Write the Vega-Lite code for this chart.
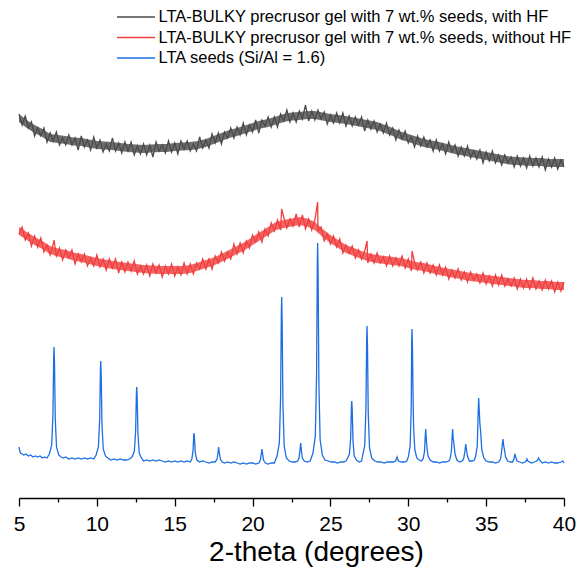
{
"$schema":"https://vega.github.io/schema/vega-lite/v6.json",
"width":545,"height":498,
"autosize":{"type":"none"},
"padding":{"left":19,"right":18,"top":0,"bottom":71},
"background":"white",
"config":{"view":{"stroke":null},"font":"Liberation Sans"},
"datasets":{
"band":[
{"s":"k","x":5.0,"lo":376,"hi":384},{"s":"k","x":5.5,"lo":370,"hi":378},{"s":"k","x":6.0,"lo":365,"hi":373},{"s":"k","x":6.5,"lo":361,"hi":369},{"s":"k","x":7.0,"lo":356,"hi":364},{"s":"k","x":7.5,"lo":355,"hi":363},{"s":"k","x":8.0,"lo":354,"hi":362},{"s":"k","x":8.5,"lo":352.5,"hi":360.5},{"s":"k","x":9.0,"lo":352,"hi":360},{"s":"k","x":9.5,"lo":350.5,"hi":358.5},
{"s":"k","x":10.0,"lo":349,"hi":357},{"s":"k","x":10.5,"lo":348.5,"hi":356.5},{"s":"k","x":11.0,"lo":348,"hi":356},{"s":"k","x":11.5,"lo":347,"hi":355},{"s":"k","x":12.0,"lo":346,"hi":354},{"s":"k","x":12.5,"lo":345.5,"hi":353.5},{"s":"k","x":13.0,"lo":345,"hi":353},{"s":"k","x":13.5,"lo":345.5,"hi":353.5},{"s":"k","x":14.0,"lo":346,"hi":354},{"s":"k","x":14.5,"lo":346,"hi":354},
{"s":"k","x":15.0,"lo":347,"hi":355},{"s":"k","x":15.5,"lo":347.5,"hi":355.5},{"s":"k","x":16.0,"lo":348,"hi":356},{"s":"k","x":16.5,"lo":349,"hi":357},{"s":"k","x":17.0,"lo":351,"hi":359},{"s":"k","x":17.5,"lo":354,"hi":362},{"s":"k","x":18.0,"lo":357,"hi":365},{"s":"k","x":18.5,"lo":360,"hi":368},{"s":"k","x":19.0,"lo":362,"hi":370},{"s":"k","x":19.5,"lo":364.5,"hi":372.5},
{"s":"k","x":20.0,"lo":367,"hi":375},{"s":"k","x":20.5,"lo":369.5,"hi":377.5},{"s":"k","x":21.0,"lo":371,"hi":379},{"s":"k","x":21.5,"lo":373.5,"hi":381.5},{"s":"k","x":22.0,"lo":376,"hi":384},{"s":"k","x":22.5,"lo":377.5,"hi":385.5},{"s":"k","x":23.0,"lo":378,"hi":386},{"s":"k","x":23.5,"lo":379,"hi":387},{"s":"k","x":24.0,"lo":379,"hi":387},{"s":"k","x":24.5,"lo":377.5,"hi":385.5},
{"s":"k","x":25.0,"lo":376,"hi":384},{"s":"k","x":25.5,"lo":375,"hi":383},{"s":"k","x":26.0,"lo":374,"hi":382},{"s":"k","x":26.5,"lo":372.5,"hi":380.5},{"s":"k","x":27.0,"lo":371,"hi":379},{"s":"k","x":27.5,"lo":369.5,"hi":377.5},{"s":"k","x":28.0,"lo":368,"hi":376},{"s":"k","x":28.5,"lo":365,"hi":373},{"s":"k","x":29.0,"lo":362,"hi":370},{"s":"k","x":29.5,"lo":358.5,"hi":366.5},
{"s":"k","x":30.0,"lo":356,"hi":364},{"s":"k","x":30.5,"lo":353.5,"hi":361.5},{"s":"k","x":31.0,"lo":351,"hi":359},{"s":"k","x":31.5,"lo":349.5,"hi":357.5},{"s":"k","x":32.0,"lo":348,"hi":356},{"s":"k","x":32.5,"lo":346,"hi":354},{"s":"k","x":33.0,"lo":344,"hi":352},{"s":"k","x":33.5,"lo":342.5,"hi":350.5},{"s":"k","x":34.0,"lo":341,"hi":349},{"s":"k","x":34.5,"lo":339.5,"hi":347.5},
{"s":"k","x":35.0,"lo":338,"hi":346},{"s":"k","x":35.5,"lo":336.5,"hi":344.5},{"s":"k","x":36.0,"lo":335,"hi":343},{"s":"k","x":36.5,"lo":333.5,"hi":341.5},{"s":"k","x":37.0,"lo":333,"hi":341},{"s":"k","x":37.5,"lo":332.5,"hi":340.5},{"s":"k","x":38.0,"lo":332,"hi":340},{"s":"k","x":38.5,"lo":332,"hi":340},{"s":"k","x":39.0,"lo":331,"hi":339},{"s":"k","x":39.5,"lo":331,"hi":339},{"s":"k","x":40.0,"lo":331,"hi":339},
{"s":"r","x":5.0,"lo":263,"hi":271},{"s":"r","x":5.5,"lo":258,"hi":266},{"s":"r","x":6.0,"lo":253,"hi":261},{"s":"r","x":6.5,"lo":249,"hi":257},{"s":"r","x":7.0,"lo":244,"hi":252},{"s":"r","x":7.5,"lo":241.5,"hi":249.5},{"s":"r","x":8.0,"lo":240,"hi":248},{"s":"r","x":8.5,"lo":237.5,"hi":245.5},{"s":"r","x":9.0,"lo":236,"hi":244},{"s":"r","x":9.5,"lo":234,"hi":242},
{"s":"r","x":10.0,"lo":232,"hi":240},{"s":"r","x":10.5,"lo":230.5,"hi":238.5},{"s":"r","x":11.0,"lo":229,"hi":237},{"s":"r","x":11.5,"lo":228,"hi":236},{"s":"r","x":12.0,"lo":227,"hi":235},{"s":"r","x":12.5,"lo":226,"hi":234},{"s":"r","x":13.0,"lo":225,"hi":233},{"s":"r","x":13.5,"lo":224.5,"hi":232.5},{"s":"r","x":14.0,"lo":224,"hi":232},{"s":"r","x":14.5,"lo":224,"hi":232},
{"s":"r","x":15.0,"lo":224,"hi":232},{"s":"r","x":15.5,"lo":224,"hi":232},{"s":"r","x":16.0,"lo":225,"hi":233},{"s":"r","x":16.5,"lo":227.5,"hi":235.5},{"s":"r","x":17.0,"lo":230,"hi":238},{"s":"r","x":17.5,"lo":232.5,"hi":240.5},{"s":"r","x":18.0,"lo":236,"hi":244},{"s":"r","x":18.5,"lo":240,"hi":248},{"s":"r","x":19.0,"lo":244,"hi":252},{"s":"r","x":19.5,"lo":248,"hi":256},
{"s":"r","x":20.0,"lo":253,"hi":261},{"s":"r","x":20.5,"lo":258,"hi":266},{"s":"r","x":21.0,"lo":263,"hi":271},{"s":"r","x":21.5,"lo":268,"hi":276},{"s":"r","x":22.0,"lo":270,"hi":278},{"s":"r","x":22.5,"lo":271.5,"hi":279.5},{"s":"r","x":23.0,"lo":273,"hi":281},{"s":"r","x":23.5,"lo":271.5,"hi":279.5},{"s":"r","x":24.0,"lo":268,"hi":276},{"s":"r","x":24.5,"lo":261,"hi":269},
{"s":"r","x":25.0,"lo":255,"hi":263},{"s":"r","x":25.5,"lo":250,"hi":258},{"s":"r","x":26.0,"lo":245,"hi":253},{"s":"r","x":26.5,"lo":242,"hi":250},{"s":"r","x":27.0,"lo":239,"hi":247},{"s":"r","x":27.5,"lo":236.5,"hi":244.5},{"s":"r","x":28.0,"lo":235,"hi":243},{"s":"r","x":28.5,"lo":234,"hi":242},{"s":"r","x":29.0,"lo":233,"hi":241},{"s":"r","x":29.5,"lo":232,"hi":240},
{"s":"r","x":30.0,"lo":230,"hi":238},{"s":"r","x":30.5,"lo":228,"hi":236},{"s":"r","x":31.0,"lo":227,"hi":235},{"s":"r","x":31.5,"lo":225,"hi":233},{"s":"r","x":32.0,"lo":223,"hi":231},{"s":"r","x":32.5,"lo":221.5,"hi":229.5},{"s":"r","x":33.0,"lo":220,"hi":228},{"s":"r","x":33.5,"lo":218.5,"hi":226.5},{"s":"r","x":34.0,"lo":217,"hi":225},{"s":"r","x":34.5,"lo":216,"hi":224},
{"s":"r","x":35.0,"lo":215,"hi":223},{"s":"r","x":35.5,"lo":214,"hi":222},{"s":"r","x":36.0,"lo":213,"hi":221},{"s":"r","x":36.5,"lo":212,"hi":220},{"s":"r","x":37.0,"lo":211,"hi":219},{"s":"r","x":37.5,"lo":210,"hi":218},{"s":"r","x":38.0,"lo":210,"hi":218},{"s":"r","x":38.5,"lo":209,"hi":217},{"s":"r","x":39.0,"lo":209,"hi":217},{"s":"r","x":39.5,"lo":208,"hi":216},{"s":"r","x":40.0,"lo":208,"hi":216}
],
"pts":[
{"s":"k","x":5.0,"y":384},{"s":"k","x":5.2,"y":373},{"s":"k","x":5.4,"y":382},{"s":"k","x":5.6,"y":370},{"s":"k","x":5.8,"y":376},{"s":"k","x":6.0,"y":362},{"s":"k","x":6.2,"y":370},{"s":"k","x":6.4,"y":362},{"s":"k","x":6.6,"y":370},{"s":"k","x":6.8,"y":356},
{"s":"k","x":7.0,"y":365},{"s":"k","x":7.2,"y":357},{"s":"k","x":7.4,"y":366},{"s":"k","x":7.6,"y":353},{"s":"k","x":7.8,"y":360},{"s":"k","x":8.0,"y":353},{"s":"k","x":8.2,"y":363},{"s":"k","x":8.4,"y":353},{"s":"k","x":8.6,"y":360},{"s":"k","x":8.8,"y":348},
{"s":"k","x":9.0,"y":362},{"s":"k","x":9.2,"y":351},{"s":"k","x":9.4,"y":358},{"s":"k","x":9.6,"y":348},{"s":"k","x":9.8,"y":361},{"s":"k","x":10.0,"y":350},{"s":"k","x":10.2,"y":358},{"s":"k","x":10.4,"y":346},{"s":"k","x":10.6,"y":354},{"s":"k","x":10.8,"y":347},
{"s":"k","x":11.0,"y":360},{"s":"k","x":11.2,"y":347},{"s":"k","x":11.4,"y":355},{"s":"k","x":11.6,"y":345},{"s":"k","x":11.8,"y":356},{"s":"k","x":12.0,"y":347},{"s":"k","x":12.2,"y":356},{"s":"k","x":12.4,"y":343},{"s":"k","x":12.6,"y":352},{"s":"k","x":12.8,"y":344},
{"s":"k","x":13.0,"y":354},{"s":"k","x":13.2,"y":343},{"s":"k","x":13.4,"y":353},{"s":"k","x":13.6,"y":341},{"s":"k","x":13.8,"y":356},{"s":"k","x":14.0,"y":347},{"s":"k","x":14.2,"y":353},{"s":"k","x":14.4,"y":345},{"s":"k","x":14.6,"y":357},{"s":"k","x":14.8,"y":346},
{"s":"k","x":15.0,"y":355},{"s":"k","x":15.2,"y":344},{"s":"k","x":15.4,"y":357},{"s":"k","x":15.6,"y":349},{"s":"k","x":15.8,"y":357},{"s":"k","x":16.0,"y":347},{"s":"k","x":16.2,"y":354},{"s":"k","x":16.4,"y":347},{"s":"k","x":16.6,"y":361},{"s":"k","x":16.8,"y":350},
{"s":"k","x":17.0,"y":358},{"s":"k","x":17.2,"y":350},{"s":"k","x":17.4,"y":364},{"s":"k","x":17.6,"y":355},{"s":"k","x":17.8,"y":365},{"s":"k","x":18.0,"y":354},{"s":"k","x":18.2,"y":366},{"s":"k","x":18.4,"y":360},{"s":"k","x":18.6,"y":370},{"s":"k","x":18.8,"y":360},
{"s":"k","x":19.0,"y":371},{"s":"k","x":19.2,"y":363},{"s":"k","x":19.4,"y":375},{"s":"k","x":19.6,"y":363},{"s":"k","x":19.8,"y":373},{"s":"k","x":20.0,"y":366},{"s":"k","x":20.2,"y":378},{"s":"k","x":20.4,"y":365},{"s":"k","x":20.6,"y":378},{"s":"k","x":20.8,"y":372},
{"s":"k","x":21.0,"y":381},{"s":"k","x":21.2,"y":371},{"s":"k","x":21.4,"y":381},{"s":"k","x":21.6,"y":371},{"s":"k","x":21.8,"y":384},{"s":"k","x":22.0,"y":377},{"s":"k","x":22.2,"y":388},{"s":"k","x":22.4,"y":376},{"s":"k","x":22.6,"y":385},{"s":"k","x":22.8,"y":376},
{"s":"k","x":23.0,"y":387},{"s":"k","x":23.2,"y":379},{"s":"k","x":23.4,"y":393},{"s":"k","x":23.6,"y":377},{"s":"k","x":23.8,"y":387},{"s":"k","x":24.0,"y":378},{"s":"k","x":24.2,"y":388},{"s":"k","x":24.4,"y":379},{"s":"k","x":24.6,"y":386},{"s":"k","x":24.8,"y":374},
{"s":"k","x":25.0,"y":383},{"s":"k","x":25.2,"y":375},{"s":"k","x":25.4,"y":385},{"s":"k","x":25.6,"y":375},{"s":"k","x":25.8,"y":385},{"s":"k","x":26.0,"y":372},{"s":"k","x":26.2,"y":382},{"s":"k","x":26.4,"y":372},{"s":"k","x":26.6,"y":381},{"s":"k","x":26.8,"y":373},
{"s":"k","x":27.0,"y":381},{"s":"k","x":27.2,"y":367},{"s":"k","x":27.4,"y":378},{"s":"k","x":27.6,"y":369},{"s":"k","x":27.8,"y":377},{"s":"k","x":28.0,"y":366},{"s":"k","x":28.2,"y":374},{"s":"k","x":28.4,"y":365},{"s":"k","x":28.6,"y":375},{"s":"k","x":28.8,"y":363},
{"s":"k","x":29.0,"y":370},{"s":"k","x":29.2,"y":358},{"s":"k","x":29.4,"y":368},{"s":"k","x":29.6,"y":359},{"s":"k","x":29.8,"y":367},{"s":"k","x":30.0,"y":355},{"s":"k","x":30.2,"y":361},{"s":"k","x":30.4,"y":351},{"s":"k","x":30.6,"y":362},{"s":"k","x":30.8,"y":352},
{"s":"k","x":31.0,"y":361},{"s":"k","x":31.2,"y":351},{"s":"k","x":31.4,"y":358},{"s":"k","x":31.6,"y":347},{"s":"k","x":31.8,"y":358},{"s":"k","x":32.0,"y":347},{"s":"k","x":32.2,"y":354},{"s":"k","x":32.4,"y":344},{"s":"k","x":32.6,"y":356},{"s":"k","x":32.8,"y":346},
{"s":"k","x":33.0,"y":353},{"s":"k","x":33.2,"y":342},{"s":"k","x":33.4,"y":351},{"s":"k","x":33.6,"y":342},{"s":"k","x":33.8,"y":352},{"s":"k","x":34.0,"y":340},{"s":"k","x":34.2,"y":347},{"s":"k","x":34.4,"y":339},{"s":"k","x":34.6,"y":348},{"s":"k","x":34.8,"y":335},
{"s":"k","x":35.0,"y":346},{"s":"k","x":35.2,"y":337},{"s":"k","x":35.4,"y":347},{"s":"k","x":35.6,"y":335},{"s":"k","x":35.8,"y":343},{"s":"k","x":36.0,"y":333},{"s":"k","x":36.2,"y":343},{"s":"k","x":36.4,"y":335},{"s":"k","x":36.6,"y":341},{"s":"k","x":36.8,"y":331},
{"s":"k","x":37.0,"y":342},{"s":"k","x":37.2,"y":332},{"s":"k","x":37.4,"y":340},{"s":"k","x":37.6,"y":330},{"s":"k","x":37.8,"y":342},{"s":"k","x":38.0,"y":332},{"s":"k","x":38.2,"y":340},{"s":"k","x":38.4,"y":331},{"s":"k","x":38.6,"y":341},{"s":"k","x":38.8,"y":328},
{"s":"k","x":39.0,"y":339},{"s":"k","x":39.2,"y":331},{"s":"k","x":39.4,"y":340},{"s":"k","x":39.6,"y":329},{"s":"k","x":39.8,"y":338},{"s":"k","x":40.0,"y":331},
{"s":"r","x":5.0,"y":264},{"s":"r","x":5.2,"y":271},{"s":"r","x":5.4,"y":258},{"s":"r","x":5.6,"y":265},{"s":"r","x":5.8,"y":252},{"s":"r","x":6.0,"y":262},{"s":"r","x":6.2,"y":251},{"s":"r","x":6.4,"y":260},{"s":"r","x":6.6,"y":246},{"s":"r","x":6.8,"y":253},
{"s":"r","x":7.0,"y":243},{"s":"r","x":7.2,"y":254},{"s":"r","x":7.25,"y":258},{"s":"r","x":7.4,"y":242},{"s":"r","x":7.6,"y":250},{"s":"r","x":7.8,"y":238},{"s":"r","x":8.0,"y":248},{"s":"r","x":8.2,"y":240},{"s":"r","x":8.4,"y":248},{"s":"r","x":8.6,"y":234},{"s":"r","x":8.8,"y":244},
{"s":"r","x":9.0,"y":236},{"s":"r","x":9.2,"y":244},{"s":"r","x":9.4,"y":232},{"s":"r","x":9.6,"y":240},{"s":"r","x":9.8,"y":232},{"s":"r","x":10.0,"y":243},{"s":"r","x":10.2,"y":231},{"s":"r","x":10.4,"y":239},{"s":"r","x":10.6,"y":228},{"s":"r","x":10.8,"y":239},
{"s":"r","x":11.0,"y":230},{"s":"r","x":11.2,"y":239},{"s":"r","x":11.4,"y":225},{"s":"r","x":11.6,"y":236},{"s":"r","x":11.8,"y":226},{"s":"r","x":12.0,"y":236},{"s":"r","x":12.2,"y":227},{"s":"r","x":12.4,"y":237},{"s":"r","x":12.6,"y":224},{"s":"r","x":12.8,"y":232},
{"s":"r","x":13.0,"y":224},{"s":"r","x":13.2,"y":233},{"s":"r","x":13.4,"y":222},{"s":"r","x":13.6,"y":234},{"s":"r","x":13.8,"y":225},{"s":"r","x":14.0,"y":233},{"s":"r","x":14.2,"y":221},{"s":"r","x":14.4,"y":232},{"s":"r","x":14.6,"y":224},{"s":"r","x":14.8,"y":234},
{"s":"r","x":15.0,"y":222},{"s":"r","x":15.2,"y":231},{"s":"r","x":15.4,"y":223},{"s":"r","x":15.6,"y":235},{"s":"r","x":15.8,"y":224},{"s":"r","x":16.0,"y":234},{"s":"r","x":16.2,"y":224},{"s":"r","x":16.4,"y":235},{"s":"r","x":16.6,"y":229},{"s":"r","x":16.8,"y":239},
{"s":"r","x":17.0,"y":229},{"s":"r","x":17.2,"y":239},{"s":"r","x":17.4,"y":229},{"s":"r","x":17.6,"y":242},{"s":"r","x":17.8,"y":235},{"s":"r","x":18.0,"y":246},{"s":"r","x":18.2,"y":237},{"s":"r","x":18.4,"y":246},{"s":"r","x":18.6,"y":239},{"s":"r","x":18.8,"y":254},
{"s":"r","x":19.0,"y":244},{"s":"r","x":19.2,"y":255},{"s":"r","x":19.4,"y":245},{"s":"r","x":19.6,"y":257},{"s":"r","x":19.8,"y":250},{"s":"r","x":20.0,"y":263},{"s":"r","x":20.2,"y":256},{"s":"r","x":20.4,"y":266},{"s":"r","x":20.6,"y":256},{"s":"r","x":20.8,"y":269},
{"s":"r","x":21.0,"y":262},{"s":"r","x":21.2,"y":275},{"s":"r","x":21.4,"y":267},{"s":"r","x":21.6,"y":278},{"s":"r","x":21.8,"y":268},{"s":"r","x":21.87,"y":289},{"s":"r","x":22.0,"y":281},{"s":"r","x":22.2,"y":270},{"s":"r","x":22.4,"y":279},{"s":"r","x":22.6,"y":272},{"s":"r","x":22.8,"y":284},
{"s":"r","x":23.0,"y":271},{"s":"r","x":23.2,"y":283},{"s":"r","x":23.4,"y":269},{"s":"r","x":23.6,"y":279},{"s":"r","x":23.8,"y":268},{"s":"r","x":24.0,"y":278},{"s":"r","x":24.18,"y":296},{"s":"r","x":24.2,"y":267},{"s":"r","x":24.4,"y":271},{"s":"r","x":24.6,"y":257},{"s":"r","x":24.8,"y":264},
{"s":"r","x":25.0,"y":254},{"s":"r","x":25.2,"y":262},{"s":"r","x":25.4,"y":251},{"s":"r","x":25.6,"y":259},{"s":"r","x":25.8,"y":245},{"s":"r","x":26.0,"y":253},{"s":"r","x":26.2,"y":245},{"s":"r","x":26.4,"y":252},{"s":"r","x":26.6,"y":240},{"s":"r","x":26.8,"y":248},
{"s":"r","x":27.0,"y":239},{"s":"r","x":27.2,"y":247},{"s":"r","x":27.35,"y":257},{"s":"r","x":27.4,"y":235},{"s":"r","x":27.6,"y":244},{"s":"r","x":27.8,"y":235},{"s":"r","x":28.0,"y":245},{"s":"r","x":28.2,"y":235},{"s":"r","x":28.4,"y":241},{"s":"r","x":28.6,"y":232},{"s":"r","x":28.8,"y":242},
{"s":"r","x":29.0,"y":232},{"s":"r","x":29.2,"y":240},{"s":"r","x":29.4,"y":232},{"s":"r","x":29.6,"y":242},{"s":"r","x":29.8,"y":230},{"s":"r","x":30.0,"y":239},{"s":"r","x":30.2,"y":227},{"s":"r","x":30.24,"y":247},{"s":"r","x":30.4,"y":236},{"s":"r","x":30.6,"y":228},{"s":"r","x":30.8,"y":236},
{"s":"r","x":31.0,"y":225},{"s":"r","x":31.2,"y":235},{"s":"r","x":31.4,"y":225},{"s":"r","x":31.6,"y":233},{"s":"r","x":31.8,"y":223},{"s":"r","x":32.0,"y":233},{"s":"r","x":32.2,"y":223},{"s":"r","x":32.4,"y":231},{"s":"r","x":32.6,"y":219},{"s":"r","x":32.8,"y":228},
{"s":"r","x":33.0,"y":220},{"s":"r","x":33.2,"y":229},{"s":"r","x":33.4,"y":218},{"s":"r","x":33.6,"y":226},{"s":"r","x":33.8,"y":216},{"s":"r","x":34.0,"y":226},{"s":"r","x":34.2,"y":218},{"s":"r","x":34.4,"y":224},{"s":"r","x":34.6,"y":215},{"s":"r","x":34.8,"y":225},
{"s":"r","x":35.0,"y":214},{"s":"r","x":35.2,"y":222},{"s":"r","x":35.4,"y":212},{"s":"r","x":35.6,"y":223},{"s":"r","x":35.8,"y":213},{"s":"r","x":36.0,"y":223},{"s":"r","x":36.2,"y":212},{"s":"r","x":36.4,"y":219},{"s":"r","x":36.6,"y":212},{"s":"r","x":36.8,"y":220},
{"s":"r","x":37.0,"y":209},{"s":"r","x":37.2,"y":219},{"s":"r","x":37.4,"y":210},{"s":"r","x":37.6,"y":219},{"s":"r","x":37.8,"y":209},{"s":"r","x":38.0,"y":220},{"s":"r","x":38.2,"y":209},{"s":"r","x":38.4,"y":217},{"s":"r","x":38.6,"y":208},{"s":"r","x":38.8,"y":218},
{"s":"r","x":39.0,"y":209},{"s":"r","x":39.2,"y":217},{"s":"r","x":39.4,"y":206},{"s":"r","x":39.6,"y":216},{"s":"r","x":39.8,"y":207},{"s":"r","x":40.0,"y":216},
{"s":"b","x":5.0,"y":51},{"s":"b","x":5.05,"y":47},{"s":"b","x":5.1,"y":45},{"s":"b","x":5.2,"y":44},{"s":"b","x":5.3,"y":43},{"s":"b","x":5.45,"y":44},{"s":"b","x":5.6,"y":42},{"s":"b","x":5.75,"y":43},{"s":"b","x":5.9,"y":41},{"s":"b","x":6.05,"y":42},{"s":"b","x":6.2,"y":41},{"s":"b","x":6.35,"y":42},{"s":"b","x":6.5,"y":40},{"s":"b","x":6.65,"y":41},{"s":"b","x":6.8,"y":40},
{"s":"b","x":6.95,"y":44},{"s":"b","x":7.1,"y":53},{"s":"b","x":7.18,"y":84},{"s":"b","x":7.23,"y":142},{"s":"b","x":7.25,"y":151},{"s":"b","x":7.28,"y":134},{"s":"b","x":7.33,"y":79},{"s":"b","x":7.41,"y":51},{"s":"b","x":7.55,"y":43},
{"s":"b","x":7.7,"y":41},{"s":"b","x":7.85,"y":40},{"s":"b","x":8.0,"y":41},{"s":"b","x":8.2,"y":39},{"s":"b","x":8.4,"y":40},{"s":"b","x":8.6,"y":39},{"s":"b","x":8.8,"y":40},{"s":"b","x":9.0,"y":39},{"s":"b","x":9.2,"y":40},{"s":"b","x":9.4,"y":39},{"s":"b","x":9.6,"y":40},{"s":"b","x":9.8,"y":39},
{"s":"b","x":9.95,"y":43},{"s":"b","x":10.1,"y":51},{"s":"b","x":10.18,"y":78},{"s":"b","x":10.23,"y":129},{"s":"b","x":10.25,"y":137},{"s":"b","x":10.28,"y":122},{"s":"b","x":10.33,"y":73},{"s":"b","x":10.41,"y":49},{"s":"b","x":10.55,"y":42},
{"s":"b","x":10.7,"y":40},{"s":"b","x":10.9,"y":38},{"s":"b","x":11.1,"y":39},{"s":"b","x":11.3,"y":38},{"s":"b","x":11.5,"y":39},{"s":"b","x":11.7,"y":38},{"s":"b","x":11.9,"y":38},{"s":"b","x":12.1,"y":39},
{"s":"b","x":12.26,"y":41},{"s":"b","x":12.41,"y":47},{"s":"b","x":12.49,"y":67},{"s":"b","x":12.54,"y":105},{"s":"b","x":12.56,"y":111},{"s":"b","x":12.59,"y":100},{"s":"b","x":12.64,"y":64},{"s":"b","x":12.72,"y":45},{"s":"b","x":12.86,"y":40},
{"s":"b","x":13.0,"y":37},{"s":"b","x":13.2,"y":38},{"s":"b","x":13.4,"y":37},{"s":"b","x":13.6,"y":38},{"s":"b","x":13.8,"y":37},{"s":"b","x":14.0,"y":38},{"s":"b","x":14.2,"y":37},{"s":"b","x":14.4,"y":36},{"s":"b","x":14.6,"y":37},{"s":"b","x":14.8,"y":36},{"s":"b","x":15.0,"y":37},{"s":"b","x":15.2,"y":36},{"s":"b","x":15.4,"y":37},{"s":"b","x":15.6,"y":36},{"s":"b","x":15.8,"y":37},{"s":"b","x":16.0,"y":36},
{"s":"b","x":16.1,"y":39},{"s":"b","x":16.18,"y":48},{"s":"b","x":16.22,"y":62},{"s":"b","x":16.24,"y":65},{"s":"b","x":16.27,"y":60},{"s":"b","x":16.32,"y":45},{"s":"b","x":16.42,"y":38},
{"s":"b","x":16.6,"y":36},{"s":"b","x":16.8,"y":37},{"s":"b","x":17.0,"y":36},{"s":"b","x":17.2,"y":35},{"s":"b","x":17.4,"y":36},{"s":"b","x":17.6,"y":36},
{"s":"b","x":17.72,"y":39},{"s":"b","x":17.78,"y":45},{"s":"b","x":17.82,"y":51},{"s":"b","x":17.86,"y":46},{"s":"b","x":17.93,"y":39},{"s":"b","x":18.05,"y":36},
{"s":"b","x":18.2,"y":35},{"s":"b","x":18.4,"y":36},{"s":"b","x":18.6,"y":35},{"s":"b","x":18.8,"y":36},{"s":"b","x":19.0,"y":35},{"s":"b","x":19.2,"y":34},{"s":"b","x":19.4,"y":35},{"s":"b","x":19.6,"y":34},{"s":"b","x":19.8,"y":35},{"s":"b","x":20.0,"y":35},{"s":"b","x":20.2,"y":34},{"s":"b","x":20.4,"y":35},
{"s":"b","x":20.5,"y":38},{"s":"b","x":20.56,"y":44},{"s":"b","x":20.6,"y":49},{"s":"b","x":20.64,"y":45},{"s":"b","x":20.7,"y":38},{"s":"b","x":20.82,"y":35},
{"s":"b","x":21.0,"y":34},{"s":"b","x":21.2,"y":35},{"s":"b","x":21.4,"y":35},
{"s":"b","x":21.57,"y":42},{"s":"b","x":21.72,"y":55},{"s":"b","x":21.8,"y":101},{"s":"b","x":21.85,"y":188},{"s":"b","x":21.87,"y":201},{"s":"b","x":21.9,"y":176},{"s":"b","x":21.95,"y":93},{"s":"b","x":22.03,"y":52},{"s":"b","x":22.17,"y":40},
{"s":"b","x":22.35,"y":37},{"s":"b","x":22.55,"y":36},{"s":"b","x":22.75,"y":36},{"s":"b","x":22.9,"y":37},
{"s":"b","x":22.98,"y":40},{"s":"b","x":23.04,"y":47},{"s":"b","x":23.09,"y":55},{"s":"b","x":23.13,"y":48},{"s":"b","x":23.2,"y":40},{"s":"b","x":23.32,"y":37},
{"s":"b","x":23.5,"y":36},{"s":"b","x":23.7,"y":37},
{"s":"b","x":23.88,"y":45},{"s":"b","x":24.03,"y":62},{"s":"b","x":24.11,"y":124},{"s":"b","x":24.16,"y":237},{"s":"b","x":24.18,"y":255},{"s":"b","x":24.21,"y":222},{"s":"b","x":24.26,"y":113},{"s":"b","x":24.34,"y":58},{"s":"b","x":24.48,"y":43},
{"s":"b","x":24.65,"y":38},{"s":"b","x":24.85,"y":37},{"s":"b","x":25.05,"y":36},{"s":"b","x":25.25,"y":36},{"s":"b","x":25.45,"y":35},{"s":"b","x":25.65,"y":36},{"s":"b","x":25.85,"y":36},{"s":"b","x":26.0,"y":37},
{"s":"b","x":26.07,"y":39},{"s":"b","x":26.22,"y":44},{"s":"b","x":26.3,"y":60},{"s":"b","x":26.35,"y":92},{"s":"b","x":26.37,"y":97},{"s":"b","x":26.4,"y":88},{"s":"b","x":26.45,"y":57},{"s":"b","x":26.53,"y":42},{"s":"b","x":26.67,"y":38},
{"s":"b","x":26.85,"y":36},{"s":"b","x":27.0,"y":37},
{"s":"b","x":27.05,"y":41},{"s":"b","x":27.2,"y":52},{"s":"b","x":27.28,"y":90},{"s":"b","x":27.33,"y":161},{"s":"b","x":27.35,"y":172},{"s":"b","x":27.38,"y":152},{"s":"b","x":27.43,"y":84},{"s":"b","x":27.51,"y":50},{"s":"b","x":27.65,"y":40},
{"s":"b","x":27.85,"y":37},{"s":"b","x":28.05,"y":36},{"s":"b","x":28.25,"y":36},{"s":"b","x":28.45,"y":35},{"s":"b","x":28.65,"y":36},{"s":"b","x":28.85,"y":36},{"s":"b","x":29.05,"y":36},{"s":"b","x":29.18,"y":37},{"s":"b","x":29.28,"y":41},{"s":"b","x":29.36,"y":37},
{"s":"b","x":29.55,"y":36},{"s":"b","x":29.75,"y":36},{"s":"b","x":29.9,"y":37},
{"s":"b","x":30.0,"y":41},{"s":"b","x":30.12,"y":52},{"s":"b","x":30.19,"y":90},{"s":"b","x":30.22,"y":158},{"s":"b","x":30.24,"y":169},{"s":"b","x":30.27,"y":148},{"s":"b","x":30.3,"y":108},{"s":"b","x":30.34,"y":72},{"s":"b","x":30.42,"y":48},{"s":"b","x":30.55,"y":40},
{"s":"b","x":30.7,"y":38},{"s":"b","x":30.85,"y":37},
{"s":"b","x":30.95,"y":39},{"s":"b","x":31.04,"y":46},{"s":"b","x":31.09,"y":62},{"s":"b","x":31.12,"y":69},{"s":"b","x":31.15,"y":60},{"s":"b","x":31.2,"y":50},{"s":"b","x":31.27,"y":42},{"s":"b","x":31.4,"y":38},
{"s":"b","x":31.6,"y":36},{"s":"b","x":31.8,"y":36},{"s":"b","x":32.0,"y":35},{"s":"b","x":32.2,"y":36},{"s":"b","x":32.4,"y":36},{"s":"b","x":32.6,"y":37},
{"s":"b","x":32.68,"y":39},{"s":"b","x":32.77,"y":47},{"s":"b","x":32.82,"y":62},{"s":"b","x":32.85,"y":69},{"s":"b","x":32.88,"y":60},{"s":"b","x":32.94,"y":53},{"s":"b","x":33.0,"y":44},{"s":"b","x":33.12,"y":38},
{"s":"b","x":33.3,"y":36},{"s":"b","x":33.45,"y":37},
{"s":"b","x":33.55,"y":39},{"s":"b","x":33.63,"y":46},{"s":"b","x":33.69,"y":54},{"s":"b","x":33.73,"y":49},{"s":"b","x":33.8,"y":42},{"s":"b","x":33.92,"y":37},
{"s":"b","x":34.1,"y":37},{"s":"b","x":34.25,"y":38},
{"s":"b","x":34.33,"y":42},{"s":"b","x":34.43,"y":52},{"s":"b","x":34.49,"y":86},{"s":"b","x":34.52,"y":100},{"s":"b","x":34.55,"y":90},{"s":"b","x":34.6,"y":74},{"s":"b","x":34.65,"y":66},{"s":"b","x":34.72,"y":48},{"s":"b","x":34.85,"y":40},
{"s":"b","x":35.0,"y":37},{"s":"b","x":35.2,"y":36},{"s":"b","x":35.4,"y":36},{"s":"b","x":35.6,"y":35},{"s":"b","x":35.8,"y":36},
{"s":"b","x":35.92,"y":39},{"s":"b","x":36.0,"y":47},{"s":"b","x":36.05,"y":55},{"s":"b","x":36.08,"y":59},{"s":"b","x":36.12,"y":53},{"s":"b","x":36.18,"y":48},{"s":"b","x":36.25,"y":41},{"s":"b","x":36.38,"y":37},
{"s":"b","x":36.55,"y":36},{"s":"b","x":36.7,"y":36},
{"s":"b","x":36.78,"y":39},{"s":"b","x":36.85,"y":44},{"s":"b","x":36.9,"y":41},{"s":"b","x":36.98,"y":37},
{"s":"b","x":37.15,"y":36},{"s":"b","x":37.35,"y":35},{"s":"b","x":37.5,"y":36},{"s":"b","x":37.57,"y":37},{"s":"b","x":37.62,"y":39},{"s":"b","x":37.68,"y":37},
{"s":"b","x":37.9,"y":35},{"s":"b","x":38.1,"y":36},{"s":"b","x":38.25,"y":37},{"s":"b","x":38.31,"y":38},{"s":"b","x":38.37,"y":40},{"s":"b","x":38.43,"y":38},
{"s":"b","x":38.6,"y":35},{"s":"b","x":38.8,"y":36},{"s":"b","x":39.0,"y":35},{"s":"b","x":39.2,"y":36},{"s":"b","x":39.4,"y":35},{"s":"b","x":39.6,"y":35},{"s":"b","x":39.8,"y":36},{"s":"b","x":39.92,"y":37},{"s":"b","x":40.0,"y":35}
]
},
"layer":[
{"data":{"name":"band"},"transform":[{"filter":"datum.s == 'k'"}],
 "mark":{"type":"area","color":"#4a4a4a","opacity":0.8},
 "encoding":{"x":{"field":"x","type":"quantitative","scale":{"domain":[5,40],"nice":false,"zero":false},
  "axis":{"orient":"bottom","values":[7.5,12.5,17.5,22.5,27.5,32.5,37.5],"grid":false,"domain":false,"labels":false,"tickColor":"#000","tickWidth":1.3,"tickSize":4,"title":null}},
  "y":{"field":"lo","type":"quantitative","scale":{"domain":[0,498],"nice":false,"zero":false},"axis":null},
  "y2":{"field":"hi"}}},
{"data":{"name":"band"},"transform":[{"filter":"datum.s == 'r'"}],
 "mark":{"type":"area","color":"#f03e3e","opacity":0.8},
 "encoding":{"x":{"field":"x","type":"quantitative","axis":null},
  "y":{"field":"lo","type":"quantitative","axis":null},
  "y2":{"field":"hi"}}},
{"data":{"name":"pts"},
 "mark":{"type":"line","strokeWidth":1.3},
 "encoding":{"x":{"field":"x","type":"quantitative",
  "axis":{"orient":"bottom","values":[5,10,15,20,25,30,35,40],"grid":false,"domain":true,"domainColor":"#000","domainWidth":1.3,"tickColor":"#000","tickWidth":1.3,"tickSize":8,"labelFontSize":21,"labelFont":"Liberation Sans","labelColor":"#000","labelPadding":7,"labelFlush":false,"labelOverlap":false,"title":"2-theta (degrees)","titleFont":"Liberation Sans","titleFontSize":28,"titleFontWeight":"normal","titleColor":"#000","titleX":297,"titleY":62,"titleBaseline":"alphabetic","titleAlign":"center","titleAnchor":"middle"}},
  "y":{"field":"y","type":"quantitative","axis":null},
  "color":{"field":"s","type":"nominal","scale":{"domain":["k","r","b"],"range":["#4a4a4a","#f03e3e","#1d6ee3"]},
   "legend":{"orient":"none","legendX":97,"legendY":9,"title":null,"padding":0,"symbolType":"stroke","symbolSize":1444,"symbolStrokeWidth":1.5,"clipHeight":16,"rowPadding":3.5,"labelFontSize":16.5,"labelFont":"Liberation Sans","labelColor":"#000000","labelOffset":2.5,"labelLimit":0,
   "labelExpr":"datum.label == 'k' ? 'LTA-BULKY precrusor gel with 7 wt.% seeds, with HF' : datum.label == 'r' ? 'LTA-BULKY precrusor gel with 7 wt.% seeds, without HF' : 'LTA seeds (Si/Al = 1.6)'"}}}}
],
"resolve":{"axis":{"x":"independent"}}
}
